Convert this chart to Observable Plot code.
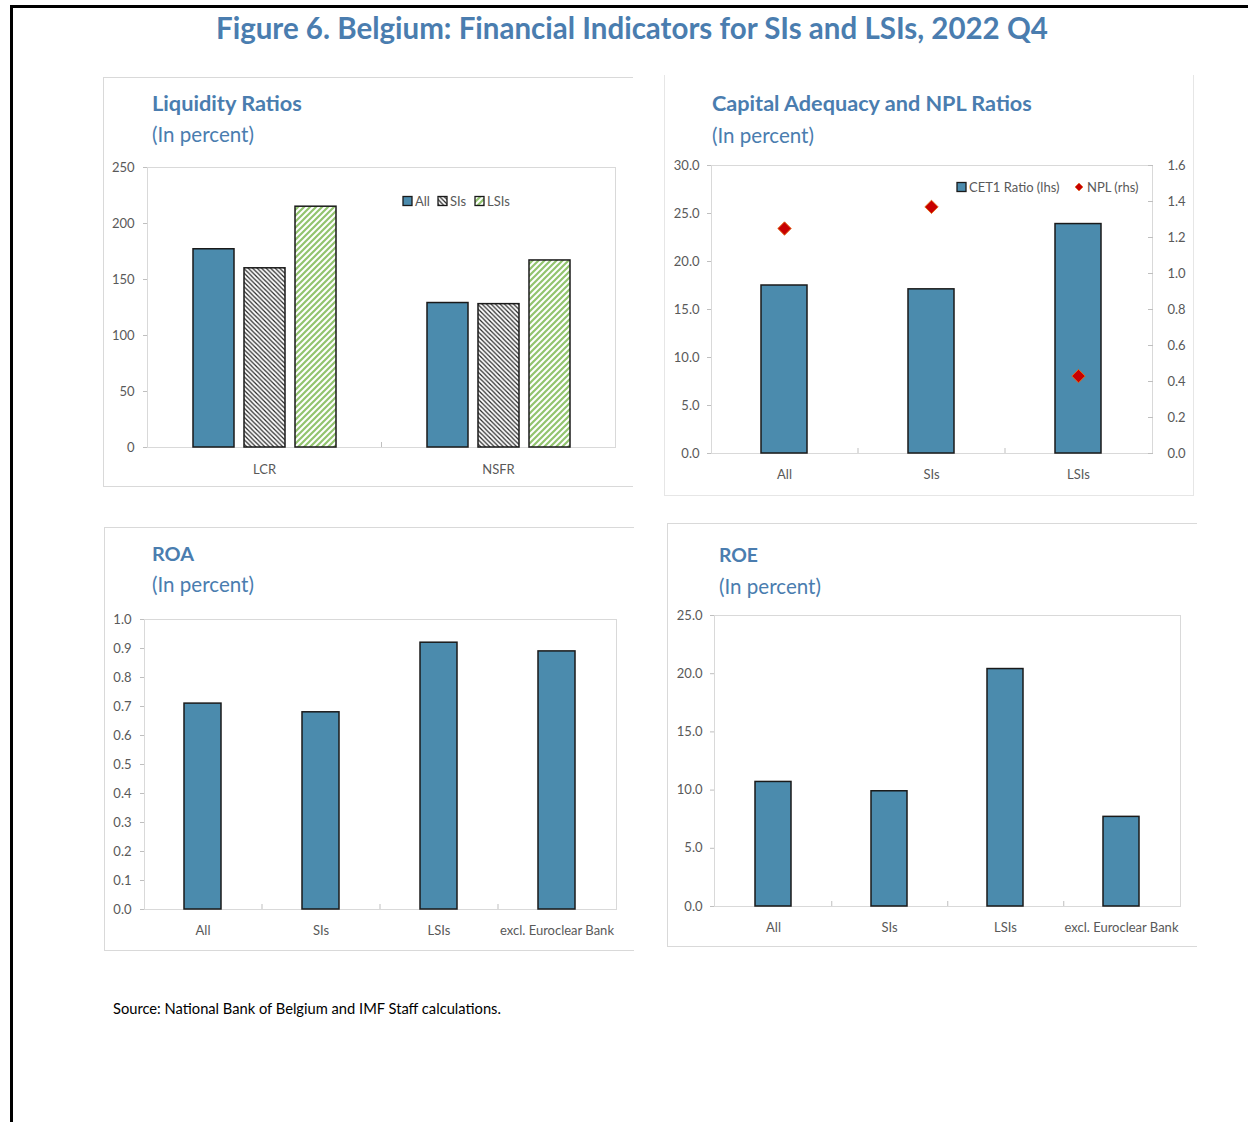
<!DOCTYPE html>
<html><head><meta charset="utf-8">
<script src="https://cdn.jsdelivr.net/npm/d3@7"></script>
<script src="https://cdn.jsdelivr.net/npm/@observablehq/plot@0.6"></script>
<style>
html,body{margin:0;padding:0;background:#fff;}
body{width:1248px;height:1122px;position:relative;overflow:hidden;font-family:Lato,"Open Sans",sans-serif;}
.abs{position:absolute;}
.txt{position:absolute;white-space:nowrap;line-height:1;}
.box{position:absolute;box-sizing:border-box;}
svg{overflow:visible;}
</style></head><body>
<svg width="0" height="0" style="position:absolute">
<defs>
<pattern id="patSIs" width="4.5" height="4.5" patternUnits="userSpaceOnUse">
<rect width="4.5" height="4.5" fill="#fff"/>
<path d="M-1,-1 L5.5,5.5 M-1,3.5 L1,5.5 M3.5,-1 L5.5,1" stroke="#2a2a2a" stroke-width="1.25"/>
</pattern>
<pattern id="patLSIs" width="6" height="6" patternUnits="userSpaceOnUse">
<rect width="6" height="6" fill="#fff"/>
<path d="M-1,7 L7,-1 M-1,1 L1,-1 M5,7 L7,5" stroke="#92c46e" stroke-width="2.2"/>
</pattern>
</defs></svg>
<script>
// ---------- DATA ----------
const liqGroups = ["LCR", "NSFR"];
const liqSeries = ["All", "SIs", "LSIs"];
const liqAll = [177, 129];
const liqSIs = [160, 128];
const liqLSIs = [215, 167];
const liqTicks = [0, 50, 100, 150, 200, 250];

const capCats = ["All", "SIs", "LSIs"];
const cet1 = [17.5, 17.1, 23.9];
const npl = [1.25, 1.37, 0.43];
const capLhsTicks = [0, 5, 10, 15, 20, 25, 30];
const capRhsTicks = [0, 0.2, 0.4, 0.6, 0.8, 1.0, 1.2, 1.4, 1.6];

const profCats = ["All", "SIs", "LSIs", "excl. Euroclear Bank"];
const roa = [0.71, 0.68, 0.92, 0.89];
const roaTicks = [0, 0.1, 0.2, 0.3, 0.4, 0.5, 0.6, 0.7, 0.8, 0.9, 1.0];
const roe = [10.7, 9.9, 20.4, 7.7];
const roeTicks = [0, 5, 10, 15, 20, 25];

// ---------- STYLE ----------
const FONT = "Lato, 'Open Sans', sans-serif";
const BLUE = "#4B8BAD";
const TITLE = "#4A7DAF";
const TICKTXT = "#595959";
const TICKLN = "#bfbfbf";
const FRAME = "#d9d9d9";
const EDGE = "#1a1a1a";
const baseStyle = {fontFamily: FONT, fontSize: "13px", color: TICKTXT, background: "transparent", overflow: "visible"};

function place(el, x, y) {
  el.style.position = "absolute";
  el.style.left = x + "px";
  el.style.top = y + "px";
  document.body.appendChild(el);
  return el;
}
function addText(str, x, yc, w, weight, color) {
  const el = document.createElement("div");
  el.className = "txt";
  el.textContent = str;
  el.style.fontWeight = weight;
  el.style.color = color;
  el.style.fontSize = "20px";
  document.body.appendChild(el);
  const w0 = el.getBoundingClientRect().width;
  const fs = 20 * w / w0;
  el.style.fontSize = fs + "px";
  const h = el.getBoundingClientRect().height;
  el.style.left = x + "px";
  el.style.top = (yc - h / 2) + "px";
}
function addBox(x, y, w, h, sides, color, bw = 1) {
  const d = document.createElement("div");
  d.className = "box";
  d.style.left = x + "px"; d.style.top = y + "px";
  d.style.width = w + "px"; d.style.height = h + "px";
  for (const s of ["top", "right", "bottom", "left"]) {
    d.style["border" + s[0].toUpperCase() + s.slice(1)] = sides.includes(s) ? `${bw}px solid ${color}` : "none";
  }
  document.body.appendChild(d);
}

// outer black frame
addBox(10, 5, 1240, 1120, ["top", "left"], "#000", 3);

// panel boxes
addBox(103, 77, 530, 410, ["top", "left", "bottom"], FRAME);
addBox(664, 75, 530, 421, ["left", "right", "bottom"], "#e6e6e6");
addBox(104, 527, 530, 424, ["top", "left", "bottom"], FRAME);
addBox(667, 523, 530, 424, ["top", "left", "bottom"], FRAME);

// titles
addText("Figure 6. Belgium: Financial Indicators for SIs and LSIs, 2022 Q4", 216, 28, 832, 700, TITLE);
addText("Liquidity Ratios", 152, 104, 150, 700, TITLE);
addText("(In percent)", 152, 134, 102, 400, TITLE);
addText("Capital Adequacy and NPL Ratios", 712, 104, 320, 700, TITLE);
addText("(In percent)", 712, 135, 102, 400, TITLE);
addText("ROA", 152, 554, 42, 700, TITLE);
addText("(In percent)", 152, 584, 102, 400, TITLE);
addText("ROE", 719, 555, 39, 700, TITLE);
addText("(In percent)", 719, 586, 102, 400, TITLE);
addText("Source: National Bank of Belgium and IMF Staff calculations.", 113, 1009, 388, 400, "#000");

// ---------- LIQUIDITY (faceted grouped bars) ----------
const liqData = liqGroups.flatMap((g, i) => [
  {group: g, series: "All", value: liqAll[i]},
  {group: g, series: "SIs", value: liqSIs[i]},
  {group: g, series: "LSIs", value: liqLSIs[i]}
]);
addBox(147, 167, 469, 281, ["top", "right", "bottom", "left"], FRAME);
const liq = Plot.plot({
  width: 530, height: 335, marginLeft: 44, marginRight: 18, marginTop: 17, marginBottom: 38,
  style: baseStyle,
  fx: {domain: liqGroups, padding: 0, label: null},
  x: {domain: liqSeries, paddingInner: 0.204, paddingOuter: 0.874, axis: null},
  y: {domain: [0, 250], label: null},
  color: {domain: liqSeries, range: [BLUE, "url(#patSIs)", "url(#patLSIs)"]},
  marks: [
    Plot.axisY({ticks: liqTicks, tickSize: 4, tickPadding: 9, stroke: TICKLN, fill: TICKTXT, label: null}),
    Plot.axisFx({anchor: "bottom", tickSize: 0, tickPadding: 17, fill: TICKTXT, label: null}),
    Plot.axisFx({anchor: "bottom", ticks: ["LCR"], tickSize: -5, dx: 117, fill: "none", stroke: TICKLN, label: null}),
    Plot.barY(liqData, {fx: "group", x: "series", y: "value", fill: "series", stroke: EDGE, strokeWidth: 1.5})
  ]
});
place(liq, 103, 150);

// legend (liquidity)
{
  const s = d3.create("svg").attr("width", 120).attr("height", 16)
    .style("font-family", FONT).style("font-size", "13px");
  const items = [["All", BLUE, 3], ["SIs", "url(#patSIs)", 38], ["LSIs", "url(#patLSIs)", 75]];
  for (const [t, f, x] of items) {
    s.append("rect").attr("x", x).attr("y", 3.5).attr("width", 9).attr("height", 9)
      .attr("fill", f).attr("stroke", EDGE).attr("stroke-width", 1.3);
    s.append("text").attr("x", x + 12).attr("y", 12.5).attr("fill", TICKTXT).text(t);
  }
  place(s.node(), 400, 193);
}

// ---------- CAPITAL ADEQUACY & NPL ----------
const capData = capCats.map((c, i) => ({cat: c, cet1: cet1[i], npl: npl[i]}));
const lhsMax = 30, rhsMax = 1.6;
const toLhs = v => v * lhsMax / rhsMax;
const cap = Plot.plot({
  width: 530, height: 345, marginLeft: 47, marginRight: 42, marginTop: 15, marginBottom: 42,
  style: baseStyle,
  x: {domain: capCats, paddingInner: 0.687, paddingOuter: 0.3435, label: null},
  y: {domain: [0, lhsMax], label: null},
  marks: [
    Plot.frame({stroke: FRAME}),
    Plot.axisY({anchor: "left", ticks: capLhsTicks, tickFormat: d => d.toFixed(1), tickSize: 4, tickPadding: 8, stroke: TICKLN, fill: TICKTXT, label: null}),
    Plot.axisY({anchor: "right", ticks: capRhsTicks.map(toLhs), tickFormat: d => (d * rhsMax / lhsMax).toFixed(1), tickSize: 0, tickPadding: 15, fill: TICKTXT, label: null}),
    Plot.axisY({anchor: "right", ticks: capRhsTicks.map(toLhs), tickSize: -5, fill: "none", stroke: TICKLN, label: null}),
    Plot.axisX({tickSize: 0, tickPadding: 16, fill: TICKTXT, label: null}),
    Plot.axisX({ticks: capCats.slice(0, -1), tickSize: -5, dx: 73.5, fill: "none", stroke: TICKLN, label: null}),
    Plot.barY(capData, {x: "cat", y: "cet1", fill: BLUE, stroke: EDGE, strokeWidth: 1.5}),
    Plot.dot(capData, {x: "cat", y: d => toLhs(d.npl), symbol: "diamond2", r: 6, fill: "#c80000", stroke: "#e2661a", strokeWidth: 1})
  ]
});
place(cap, 664, 150);

// legend (capital)
{
  const s = d3.create("svg").attr("width", 200).attr("height", 16)
    .style("font-family", FONT).style("font-size", "13px");
  s.append("rect").attr("x", 3).attr("y", 3.5).attr("width", 9).attr("height", 9)
    .attr("fill", BLUE).attr("stroke", EDGE).attr("stroke-width", 1.3);
  s.append("text").attr("x", 15).attr("y", 12.5).attr("fill", TICKTXT).text("CET1 Ratio (lhs)");
  s.append("path").attr("d", "M125,4 L129,8 L125,12 L121,8 Z").attr("fill", "#c80000").attr("stroke", "#e2661a").attr("stroke-width", 0.6);
  s.append("text").attr("x", 133).attr("y", 12.5).attr("fill", TICKTXT).text("NPL (rhs)");
  place(s.node(), 954, 179);
}

// ---------- ROA ----------
const roaData = profCats.map((c, i) => ({cat: c, value: roa[i]}));
const roaPlot = Plot.plot({
  width: 529, height: 349, marginLeft: 40, marginRight: 17, marginTop: 19, marginBottom: 40,
  style: baseStyle,
  x: {domain: profCats, paddingInner: 0.686, paddingOuter: 0.343, label: null},
  y: {domain: [0, 1], label: null},
  marks: [
    Plot.frame({stroke: FRAME}),
    Plot.axisY({ticks: roaTicks, tickFormat: d => d.toFixed(1), tickSize: 4, tickPadding: 9, stroke: TICKLN, fill: TICKTXT, label: null}),
    Plot.axisX({tickSize: 0, tickPadding: 16, fill: TICKTXT, label: null}),
    Plot.axisX({ticks: profCats.slice(0, -1), tickSize: -5, dx: 59, fill: "none", stroke: TICKLN, label: null}),
    Plot.barY(roaData, {x: "cat", y: "value", fill: BLUE, stroke: EDGE, strokeWidth: 1.5})
  ]
});
place(roaPlot, 104, 600);

// ---------- ROE ----------
const roeData = profCats.map((c, i) => ({cat: c, value: roe[i]}));
const roePlot = Plot.plot({
  width: 529, height: 350, marginLeft: 47, marginRight: 16, marginTop: 19, marginBottom: 40,
  style: baseStyle,
  x: {domain: profCats, paddingInner: 0.691, paddingOuter: 0.3455, label: null},
  y: {domain: [0, 25], label: null},
  marks: [
    Plot.frame({stroke: FRAME}),
    Plot.axisY({ticks: roeTicks, tickFormat: d => d.toFixed(1), tickSize: 4, tickPadding: 8, stroke: TICKLN, fill: TICKTXT, label: null}),
    Plot.axisX({tickSize: 0, tickPadding: 16, fill: TICKTXT, label: null}),
    Plot.axisX({ticks: profCats.slice(0, -1), tickSize: -5, dx: 58.25, fill: "none", stroke: TICKLN, label: null}),
    Plot.barY(roeData, {x: "cat", y: "value", fill: BLUE, stroke: EDGE, strokeWidth: 1.5})
  ]
});
place(roePlot, 667, 596);
</script>
</body></html>
